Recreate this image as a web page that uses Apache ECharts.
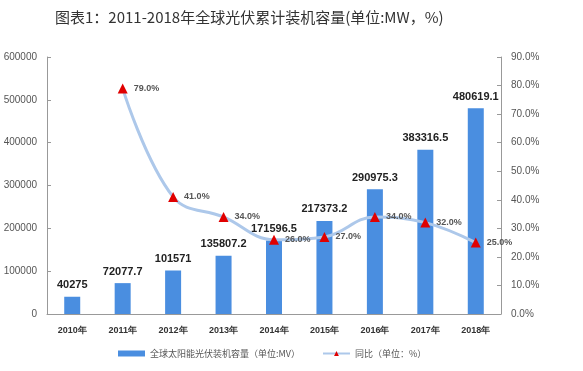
<!DOCTYPE html>
<html><head><meta charset="utf-8">
<script src="https://cdn.jsdelivr.net/npm/echarts@6/dist/echarts.min.js"></script>
<style>html,body{margin:0;padding:0;background:#fff}#c{width:583px;height:371px}</style>
</head><body><div id="c"></div>
<script>
const categories = ['2010年','2011年','2012年','2013年','2014年','2015年','2016年','2017年','2018年'];
const capacity = [40275, 72077.7, 101571, 135807.2, 171596.5, 217373.2, 290975.3, 383316.5, 480619.1];
const yoy = [null, 79.0, 41.0, 34.0, 26.0, 27.0, 34.0, 32.0, 25.0];
const leftTicks = [0, 100000, 200000, 300000, 400000, 500000, 600000];
const rightTicks = [0, 10, 20, 30, 40, 50, 60, 70, 80, 90];
const titleText = '图表1：2011-2018年全球光伏累计装机容量(单位:MW，%)';
const barName = '全球太阳能光伏装机容量（单位:MV）';
const lineName = '同比（单位：%）';

const chart = echarts.init(document.getElementById('c'));
chart.setOption({
  animation: false,
  title: {text: titleText, left: 50, top: 5,
    textStyle: {fontFamily: 'Noto Sans CJK SC', fontSize: 15, fontWeight: 'normal', color: '#333'}},
  grid: {left: 47, right: 82, top: 57, bottom: 57},
  legend: {bottom: 8, left: 113, itemGap: 22, itemWidth: 27, itemHeight: 6,
    textStyle: {fontFamily: 'Noto Sans CJK SC', fontSize: 9, color: '#555'},
    data: [{name: barName, icon: 'rect'}, {name: lineName}]},
  xAxis: {type: 'category', data: categories,
    axisLine: {lineStyle: {color: '#999'}}, axisTick: {show: false},
    axisLabel: {fontFamily: 'Liberation Sans', fontSize: 9, fontWeight: 'bold', color: '#333', margin: 12}},
  yAxis: [
    {type: 'value', min: 0, max: 600000, interval: 100000,
      axisLine: {show: true, lineStyle: {color: '#999'}},
      axisTick: {show: true, inside: true, length: 4, lineStyle: {color: '#999'}},
      splitLine: {show: false},
      axisLabel: {fontFamily: 'Liberation Sans', fontSize: 10, color: '#555', margin: 10,
        formatter: v => String(v)}},
    {type: 'value', min: 0, max: 90, interval: 10,
      axisLine: {show: true, lineStyle: {color: '#999'}},
      axisTick: {show: true, inside: true, length: 4, lineStyle: {color: '#999'}},
      splitLine: {show: false},
      axisLabel: {fontFamily: 'Liberation Sans', fontSize: 10, color: '#555', margin: 10,
        formatter: v => v.toFixed(1) + '%'}}
  ],
  series: [
    {name: barName, type: 'bar', data: capacity, barWidth: 16, yAxisIndex: 0,
      itemStyle: {color: '#4a8ee0'},
      label: {show: true, position: 'top', distance: 6, fontFamily: 'Liberation Sans',
        fontSize: 11, fontWeight: 'bold', color: '#222'}},
    {name: lineName, type: 'line', data: yoy, yAxisIndex: 1, smooth: 0.4,
      lineStyle: {color: '#adc8ea', width: 3},
      symbol: 'triangle', symbolSize: 10,
      itemStyle: {color: '#e00000'},
      label: {show: true, position: 'right', distance: 6, fontFamily: 'Liberation Sans',
        fontSize: 9, fontWeight: 'bold', color: '#555', formatter: p => p.value.toFixed(1) + '%'}}
  ]
});
</script></body></html>
